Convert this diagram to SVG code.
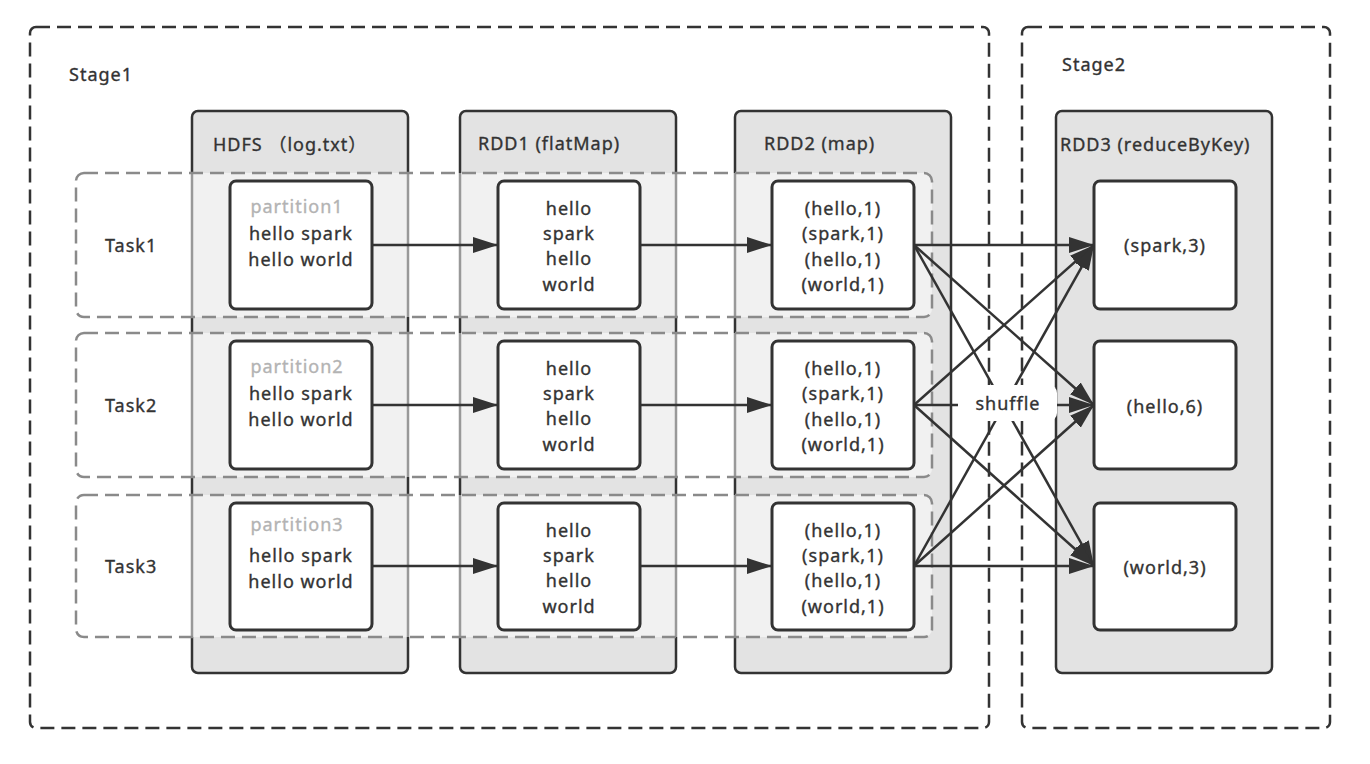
<svg xmlns="http://www.w3.org/2000/svg" width="1370" height="764" viewBox="0 0 1370 764">
<defs>
<style>
text{font-family:"Noto Sans","Noto Sans CJK SC","Liberation Sans",sans-serif;font-size:18px;fill:#333;stroke:#333;stroke-width:0.35;letter-spacing:1px;dominant-baseline:central}
.mid{text-anchor:middle}
.stage{fill:none;stroke:#333;stroke-width:2.5;stroke-dasharray:14 7}
.col{fill:#e3e3e3;stroke:#333;stroke-width:2.5}
.task{fill:#fff;fill-opacity:0.5;stroke:#8a8a8a;stroke-width:2.5;stroke-dasharray:14 7}
.node{fill:#fff;stroke:#333;stroke-width:3}
text.part{fill:#b3b3b3;stroke:#b3b3b3}
.edge{stroke:#333;stroke-width:2.5;fill:none;marker-end:url(#arr)}
</style>
<marker id="arr" markerUnits="userSpaceOnUse" markerWidth="26" markerHeight="18" refX="25" refY="8.5" orient="auto">
<path d="M0,0.5 L25,8.5 L0,16.5 Z" fill="#333"/>
</marker>
</defs>
<rect width="1370" height="764" fill="#fff"/>

<g id="stage1">
<rect class="stage" x="30" y="27" width="959" height="701" rx="6"/>
<text x="69" y="74">Stage1</text>
</g>
<g id="stage2">
<rect class="stage" x="1022" y="27" width="308" height="701" rx="6"/>
<text x="1062" y="64">Stage2</text>
</g>

<g id="col-hdfs">
<rect class="col" x="192" y="111" width="216" height="562" rx="6"/>
<text x="213" y="144">HDFS （log.txt）</text>
</g>
<g id="col-rdd1">
<rect class="col" x="460" y="111" width="216" height="562" rx="6"/>
<text x="478" y="143">RDD1 (flatMap)</text>
</g>
<g id="col-rdd2">
<rect class="col" x="735" y="111" width="216" height="562" rx="6"/>
<text x="764" y="143">RDD2 (map)</text>
</g>
<g id="col-rdd3">
<rect class="col" x="1056" y="111" width="216" height="562" rx="6"/>
<text x="1060" y="144" letter-spacing="0.3">RDD3 (reduceByKey)</text>
</g>

<g id="task1">
<rect class="task" x="76" y="173" width="856" height="144" rx="8"/>
<text x="105" y="245">Task1</text>
</g>
<g id="task2">
<rect class="task" x="76" y="333" width="856" height="144" rx="8"/>
<text x="105" y="405">Task2</text>
</g>
<g id="task3">
<rect class="task" x="76" y="495" width="856" height="142" rx="8"/>
<text x="105" y="566">Task3</text>
</g>

<g id="p1">
<rect class="node" x="230" y="181" width="142" height="128" rx="6"/>
<text class="mid part" x="297" y="206">partition1</text>
<text class="mid" x="301" y="233">hello spark</text>
<text class="mid" x="301" y="259">hello world</text>
</g>
<g id="p2">
<rect class="node" x="230" y="341" width="142" height="128" rx="6"/>
<text class="mid part" x="297" y="366">partition2</text>
<text class="mid" x="301" y="393">hello spark</text>
<text class="mid" x="301" y="419">hello world</text>
</g>
<g id="p3">
<rect class="node" x="230" y="503" width="142" height="127" rx="6"/>
<text class="mid part" x="297" y="524">partition3</text>
<text class="mid" x="301" y="555">hello spark</text>
<text class="mid" x="301" y="581">hello world</text>
</g>

<g id="r1a">
<rect class="node" x="498" y="181" width="142" height="128" rx="6"/>
<text class="mid" x="569" y="208">hello</text>
<text class="mid" x="569" y="233">spark</text>
<text class="mid" x="569" y="258">hello</text>
<text class="mid" x="569" y="284">world</text>
</g>
<g id="r1b">
<rect class="node" x="498" y="341" width="142" height="128" rx="6"/>
<text class="mid" x="569" y="368">hello</text>
<text class="mid" x="569" y="393">spark</text>
<text class="mid" x="569" y="418">hello</text>
<text class="mid" x="569" y="444">world</text>
</g>
<g id="r1c">
<rect class="node" x="498" y="503" width="142" height="127" rx="6"/>
<text class="mid" x="569" y="530">hello</text>
<text class="mid" x="569" y="555">spark</text>
<text class="mid" x="569" y="580">hello</text>
<text class="mid" x="569" y="606">world</text>
</g>

<g id="r2a">
<rect class="node" x="772" y="181" width="142" height="128" rx="6"/>
<text class="mid" x="843" y="208">(hello,1)</text>
<text class="mid" x="843" y="233">(spark,1)</text>
<text class="mid" x="843" y="259">(hello,1)</text>
<text class="mid" x="843" y="284">(world,1)</text>
</g>
<g id="r2b">
<rect class="node" x="772" y="341" width="142" height="128" rx="6"/>
<text class="mid" x="843" y="368">(hello,1)</text>
<text class="mid" x="843" y="393">(spark,1)</text>
<text class="mid" x="843" y="419">(hello,1)</text>
<text class="mid" x="843" y="444">(world,1)</text>
</g>
<g id="r2c">
<rect class="node" x="772" y="503" width="142" height="127" rx="6"/>
<text class="mid" x="843" y="530">(hello,1)</text>
<text class="mid" x="843" y="555">(spark,1)</text>
<text class="mid" x="843" y="580">(hello,1)</text>
<text class="mid" x="843" y="606">(world,1)</text>
</g>

<g id="r3a">
<rect class="node" x="1094" y="181" width="142" height="128" rx="6"/>
<text class="mid" x="1165" y="245">(spark,3)</text>
</g>
<g id="r3b">
<rect class="node" x="1094" y="341" width="142" height="128" rx="6"/>
<text class="mid" x="1165" y="406">(hello,6)</text>
</g>
<g id="r3c">
<rect class="node" x="1094" y="503" width="142" height="127" rx="6"/>
<text class="mid" x="1165" y="567">(world,3)</text>
</g>

<g id="connectors">
<line class="edge" x1="372" y1="245" x2="498" y2="245"/>
<line class="edge" x1="640" y1="245" x2="772" y2="245"/>
<line class="edge" x1="372" y1="405" x2="498" y2="405"/>
<line class="edge" x1="640" y1="405" x2="772" y2="405"/>
<line class="edge" x1="372" y1="566" x2="498" y2="566"/>
<line class="edge" x1="640" y1="566" x2="772" y2="566"/>

<line class="edge" x1="914" y1="245" x2="1094" y2="245"/>
<line class="edge" x1="914" y1="245" x2="1094" y2="405"/>
<line class="edge" x1="914" y1="245" x2="1094" y2="566"/>
<line class="edge" x1="914" y1="405" x2="1094" y2="245"/>
<line class="edge" x1="914" y1="405" x2="1094" y2="405"/>
<line class="edge" x1="914" y1="405" x2="1094" y2="566"/>
<line class="edge" x1="914" y1="566" x2="1094" y2="245"/>
<line class="edge" x1="914" y1="566" x2="1094" y2="405"/>
<line class="edge" x1="914" y1="566" x2="1094" y2="566"/>
</g>

<g id="shuffle">
<rect x="958" y="385" width="99" height="36" rx="8" fill="#fff"/>
<text class="mid" x="1008" y="403" font-size="17" letter-spacing="0.5">shuffle</text>
</g>
</svg>
